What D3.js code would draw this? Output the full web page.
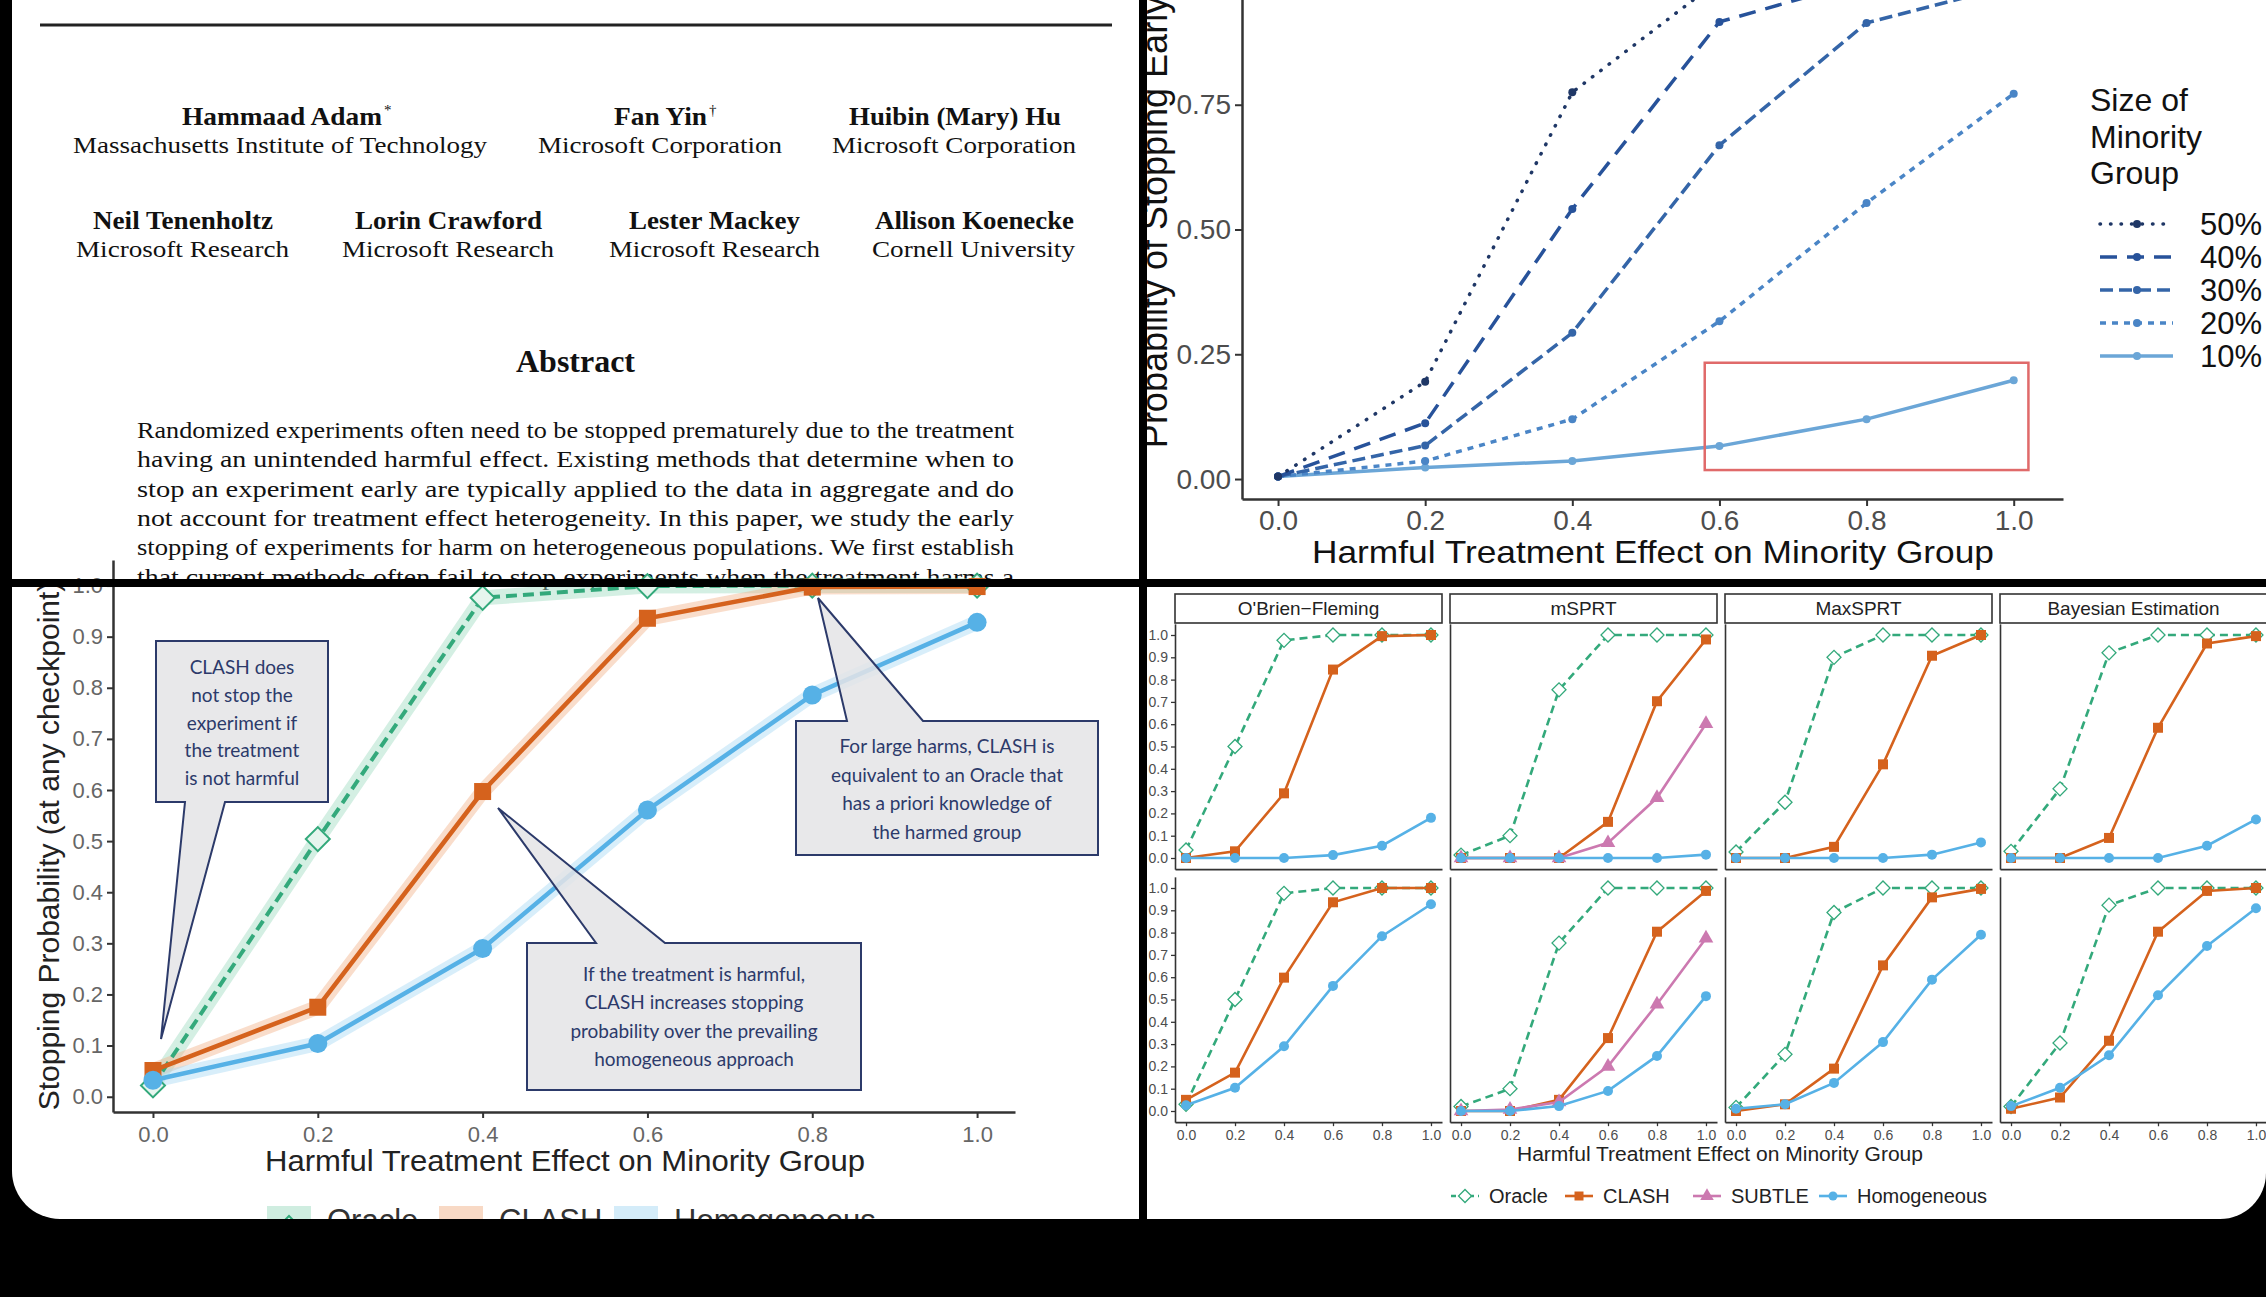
<!DOCTYPE html>
<html>
<head>
<meta charset="utf-8">
<script src="https://cdn.jsdelivr.net/npm/d3@7/dist/d3.min.js"></script>
<style>
body { margin: 0; background: #000; }
svg { display: block; }
</style>
</head>
<body>
<script>
// ---------- data ----------
const effects = [0, 0.2, 0.4, 0.6, 0.8, 1.0];
const xTicks = [0, 0.2, 0.4, 0.6, 0.8, 1.0];

// paper header
const authorNames = ["Hammaad Adam", "Fan Yin", "Huibin (Mary) Hu",
  "Neil Tenenholtz", "Lorin Crawford", "Lester Mackey", "Allison Koenecke"];
const authorMarks = ["*", "†", "", "", "", "", ""];
const affiliations = ["Massachusetts Institute of Technology", "Microsoft Corporation", "Microsoft Corporation",
  "Microsoft Research", "Microsoft Research", "Microsoft Research", "Cornell University"];
const abstractLines = [
  "Randomized experiments often need to be stopped prematurely due to the treatment",
  "having an unintended harmful effect.  Existing methods that determine when to",
  "stop an experiment early are typically applied to the data in aggregate and do",
  "not account for treatment effect heterogeneity.  In this paper, we study the early",
  "stopping of experiments for harm on heterogeneous populations. We first establish",
  "that current methods often fail to stop experiments when the treatment harms a"
];

// top right: probability of stopping early by size of minority group
const groupLabels = ["50%", "40%", "30%", "20%", "10%"];
const group50 = [0.005, 0.195, 0.775, 1.0, 1.0, 1.0];
const group40 = [0.005, 0.112, 0.541, 0.916, 1.0, 1.0];
const group30 = [0.005, 0.067, 0.293, 0.669, 0.914, 0.99];
const group20 = [0.005, 0.036, 0.12, 0.316, 0.553, 0.772];
const group10 = [0.005, 0.023, 0.036, 0.066, 0.12, 0.198];
const trYTicks = [0, 0.25, 0.5, 0.75];

// bottom left: CLASH vs oracle vs homogeneous
const oracleMain = [0.022, 0.504, 0.976, 0.999, 1.0, 1.0];
const clashMain = [0.051, 0.175, 0.597, 0.936, 0.997, 0.998];
const homogMain = [0.032, 0.104, 0.29, 0.561, 0.786, 0.928];
const blYTicks = [0, 0.1, 0.2, 0.3, 0.4, 0.5, 0.6, 0.7, 0.8, 0.9, 1.0];
const calloutLeft = ["CLASH does", "not stop the", "experiment if", "the treatment", "is not harmful"];
const calloutRight = ["For large harms, CLASH is", "equivalent to an Oracle that", "has a priori knowledge of", "the harmed group"];
const calloutMid = ["If the treatment is harmful,", "CLASH increases stopping", "probability over the prevailing", "homogeneous approach"];
const mainLegend = ["Oracle", "CLASH", "Homogeneous"];

// bottom right: facets by stopping method
const methodNames = ["O'Brien\u2212Fleming", "mSPRT", "MaxSPRT", "Bayesian Estimation"];
const facetYTicks = [0, 0.1, 0.2, 0.3, 0.4, 0.5, 0.6, 0.7, 0.8, 0.9, 1.0];
const oracleTop = [
  [0.036, 0.50, 0.976, 1, 1, 1],
  [0.013, 0.10, 0.754, 1, 1, 1],
  [0.027, 0.25, 0.90, 1, 1, 1],
  [0.03, 0.31, 0.92, 1, 1, 1]];
const clashTop = [
  [0, 0.03, 0.29, 0.845, 0.995, 1],
  [0, 0, 0, 0.162, 0.703, 0.98],
  [0, 0, 0.05, 0.42, 0.907, 1],
  [0, 0, 0.09, 0.584, 0.962, 0.995]];
const subtleTop = [null, [0, 0, 0, 0.068, 0.27, 0.602], null, null];
const homogTop = [
  [0, 0, 0, 0.013, 0.055, 0.18],
  [0, 0, 0, 0, 0, 0.015],
  [0, 0, 0, 0, 0.015, 0.07],
  [0, 0, 0, 0, 0.055, 0.173]];
const oracleBottom = [
  [0.03, 0.50, 0.976, 1, 1, 1],
  [0.02, 0.10, 0.753, 1, 1, 1],
  [0.016, 0.254, 0.89, 1, 1, 1],
  [0.02, 0.305, 0.923, 1, 1, 1]];
const clashBottom = [
  [0.05, 0.172, 0.598, 0.936, 1, 1],
  [0, 0, 0.05, 0.327, 0.804, 0.987],
  [0, 0.03, 0.19, 0.653, 0.958, 0.996],
  [0.01, 0.06, 0.315, 0.804, 0.987, 1]];
const subtleBottom = [null, [0, 0.007, 0.04, 0.2, 0.479, 0.775], null, null];
const homogBottom = [
  [0.026, 0.104, 0.29, 0.561, 0.784, 0.927],
  [0, 0, 0.022, 0.09, 0.247, 0.515],
  [0.01, 0.03, 0.126, 0.309, 0.589, 0.79],
  [0.022, 0.104, 0.25, 0.519, 0.74, 0.909]];
const facetLegend = ["Oracle", "CLASH", "SUBTLE", "Homogeneous"];

// ---------- styles ----------
const sans = "'Liberation Sans', Arial, Helvetica, sans-serif";
const serif = "'Liberation Serif', 'Times New Roman', serif";
const callFont = "Lato, 'Open Sans', sans-serif";
const green = "#33a97b", orange = "#d5621d", blue = "#56b1e6", pink = "#cc79b0";
const navy = "#2c3a6a";

const width = 2266, height = 1297;
const svg = d3.select("body").append("svg").attr("width", width).attr("height", height);
svg.append("rect").attr("width", width).attr("height", height).attr("fill", "#000");
const screenPath = "M12,0H2266V1173A46,46 0 0 1 2220,1219H60A48,48 0 0 1 12,1171Z";
svg.append("defs").append("clipPath").attr("id", "screen").append("path").attr("d", screenPath);
svg.append("path").attr("d", screenPath).attr("fill", "#fff");
const root = svg.append("g").attr("clip-path", "url(#screen)");

function styleAxis(g, size, color, lw) {
  g.attr("font-family", null).attr("font-size", null);
  g.select(".domain").attr("stroke", "#333").attr("stroke-width", lw);
  g.selectAll(".tick line").attr("stroke", "#333").attr("stroke-width", lw * 0.8);
  g.selectAll(".tick text").attr("font-family", sans).attr("font-size", size).attr("fill", color);
}
function marker(g, shape, cx, cy, s, fill, stroke, sw) {
  let type = d3.symbolCircle, rot = 0, area = Math.PI * s * s / 4;
  if (shape === "square") { type = d3.symbolSquare; area = s * s; }
  if (shape === "diamond") { type = d3.symbolSquare; area = s * s / 2; rot = 45; }
  if (shape === "triangle") { type = d3.symbolTriangle; area = s * s * 0.55; }
  g.append("path").attr("d", d3.symbol().type(type).size(area)())
    .attr("transform", `translate(${cx},${cy}) rotate(${rot})`)
    .attr("fill", fill).attr("stroke", stroke || "none").attr("stroke-width", sw || 0);
}

// ---------- top left: paper header ----------
const paper = root.append("g");
paper.append("line").attr("x1", 40).attr("x2", 1112).attr("y1", 25).attr("y2", 25)
  .attr("stroke", "#222").attr("stroke-width", 3);
function fitText(str, x, y, w, size, weight) {
  return paper.append("text").attr("x", x).attr("y", y)
    .attr("textLength", w).attr("lengthAdjust", "spacingAndGlyphs")
    .attr("font-family", serif).attr("font-size", size).attr("font-weight", weight)
    .attr("fill", "#111").text(str);
}
const nameBoxes = [[182, 200], [614, 93], [849, 212], [93, 180], [355, 187], [629, 171], [875, 199]];
const affBoxes = [[73, 414], [538, 244], [832, 244], [76, 213], [342, 212], [609, 211], [872, 203]];
authorNames.forEach((n, i) => {
  const row = i < 3 ? 0 : 1;
  const ny = row ? 229 : 125, ay = row ? 257 : 153;
  fitText(n, nameBoxes[i][0], ny, nameBoxes[i][1], 26, "bold");
  if (authorMarks[i]) {
    paper.append("text").attr("x", nameBoxes[i][0] + nameBoxes[i][1] + 2).attr("y", ny - 10)
      .attr("font-family", serif).attr("font-size", 15).attr("fill", "#111").text(authorMarks[i]);
  }
  fitText(affiliations[i], affBoxes[i][0], ay, affBoxes[i][1], 24, "normal");
});
fitText("Abstract", 516, 372, 119, 31, "bold");
abstractLines.forEach((l, i) => fitText(l, 137, 438 + i * 29.3, 877, 23.5, "normal"));

// ---------- top right: size of minority group ----------
const tr = root.append("g");
const trX = d3.scaleLinear().domain([-0.049, 1.067]).range([1242, 2063]);
const trY = d3.scaleLinear().domain([-0.04, 1.04]).range([499, -40]);
const groupSeries = [group50, group40, group30, group20, group10];
const groupColors = ["#1f3766", "#27529a", "#3465a8", "#4a85c6", "#6ba6d7"];
const groupDash = ["0.5,10", "17,10", "13,6", "6,6", null];
const groupCap = ["round", "butt", "butt", "butt", "butt"];

const trAxY = tr.append("g").attr("transform", "translate(1242,0)")
  .call(d3.axisLeft(trY).tickValues(trYTicks).tickFormat(d3.format(".2f")).tickSize(7).tickPadding(4).tickSizeOuter(0));
styleAxis(trAxY, 28, "#4d4d4d", 2.5);
const trAxX = tr.append("g").attr("transform", "translate(0,499)")
  .call(d3.axisBottom(trX).tickValues(xTicks).tickFormat(d3.format(".1f")).tickSize(7).tickPadding(4).tickSizeOuter(0));
styleAxis(trAxX, 28, "#4d4d4d", 2.5);

const trLine = d3.line().x((d, i) => trX(effects[i])).y(d => trY(d));
groupSeries.slice().reverse().forEach((s, k) => {
  const i = groupSeries.length - 1 - k;
  tr.append("path").attr("d", trLine(s)).attr("fill", "none")
    .attr("stroke", groupColors[i]).attr("stroke-width", 3.5)
    .attr("stroke-dasharray", groupDash[i]).attr("stroke-linecap", groupCap[i]);
  s.forEach((v, j) => tr.append("circle").attr("cx", trX(effects[j])).attr("cy", trY(v))
    .attr("r", 4).attr("fill", groupColors[i]));
});
tr.append("rect").attr("x", trX(0.58)).attr("y", trY(0.233))
  .attr("width", trX(1.02) - trX(0.58)).attr("height", trY(0.018) - trY(0.233))
  .attr("fill", "none").attr("stroke", "#e06a6a").attr("stroke-width", 2.5);

tr.append("text").attr("x", 1653).attr("y", 563).attr("text-anchor", "middle")
  .attr("textLength", 682).attr("lengthAdjust", "spacingAndGlyphs")
  .attr("font-family", sans).attr("font-size", 32).attr("fill", "#111")
  .text("Harmful Treatment Effect on Minority Group");
tr.append("text").attr("transform", "translate(1167,222) rotate(-90)").attr("text-anchor", "middle")
  .attr("font-family", sans).attr("font-size", 36).attr("fill", "#111")
  .text("Probability of Stopping Early");

["Size of", "Minority", "Group"].forEach((t, i) => tr.append("text")
  .attr("x", 2090).attr("y", 111 + i * 36.5).attr("font-family", sans).attr("font-size", 32)
  .attr("fill", "#111").text(t));
groupLabels.forEach((lab, i) => {
  const ky = 224 + i * 33;
  tr.append("line").attr("x1", 2100).attr("x2", 2173).attr("y1", ky).attr("y2", ky)
    .attr("stroke", groupColors[i]).attr("stroke-width", 3.5)
    .attr("stroke-dasharray", groupDash[i]).attr("stroke-linecap", groupCap[i]);
  tr.append("circle").attr("cx", 2137).attr("cy", ky).attr("r", 4).attr("fill", groupColors[i]);
  tr.append("text").attr("x", 2200).attr("y", ky + 11).attr("font-family", sans)
    .attr("font-size", 31).attr("fill", "#111").text(lab);
});

// ---------- bottom left: CLASH overview ----------
const bl = root.append("g");
const blX = d3.scaleLinear().domain([-0.0485, 1.046]).range([113, 1015]);
const blY = d3.scaleLinear().domain([-0.03, 1.05]).range([1112, 560]);
const blAxY = bl.append("g").attr("transform", "translate(113,0)")
  .call(d3.axisLeft(blY).tickValues(blYTicks).tickFormat(d3.format(".1f")).tickSize(6).tickPadding(4).tickSizeOuter(0));
styleAxis(blAxY, 22, "#666", 2.5);
const blAxX = bl.append("g").attr("transform", "translate(0,1112)")
  .call(d3.axisBottom(blX).tickValues(xTicks).tickFormat(d3.format(".1f")).tickSize(6).tickPadding(8).tickSizeOuter(0));
styleAxis(blAxX, 22, "#666", 2.5);

const blLine = d3.line().x((d, i) => blX(effects[i])).y(d => blY(d));
const mainSeries = [
  { v: oracleMain, c: green, dash: "11,6", shape: "diamond", band: "#9fdcc2" },
  { v: clashMain, c: orange, dash: null, shape: "square", band: "#f2b48c" },
  { v: homogMain, c: blue, dash: null, shape: "circle", band: "#a9d9f4" }];
mainSeries.forEach(s => bl.append("path").attr("d", blLine(s.v)).attr("fill", "none")
  .attr("stroke", s.band).attr("stroke-width", 15).attr("stroke-opacity", 0.45).attr("stroke-linejoin", "round"));
mainSeries.forEach(s => {
  bl.append("path").attr("d", blLine(s.v)).attr("fill", "none").attr("stroke", s.c)
    .attr("stroke-width", s.dash ? 4 : 4.5).attr("stroke-dasharray", s.dash);
  s.v.forEach((v, j) => {
    if (s.shape === "diamond") marker(bl, "diamond", blX(effects[j]), blY(v), 24, "#e6f5ee", s.c, 2);
    else marker(bl, s.shape, blX(effects[j]), blY(v), s.shape === "square" ? 17 : 19, s.c);
  });
});

bl.append("text").attr("x", 565).attr("y", 1171).attr("text-anchor", "middle")
  .attr("textLength", 600).attr("lengthAdjust", "spacingAndGlyphs")
  .attr("font-family", sans).attr("font-size", 30).attr("fill", "#222")
  .text("Harmful Treatment Effect on Minority Group");
bl.append("text").attr("transform", "translate(59,846) rotate(-90)").attr("text-anchor", "middle")
  .attr("font-family", sans).attr("font-size", 30).attr("fill", "#222")
  .text("Stopping Probability (at any checkpoint)");

// callouts
function callout(d, lines, cx, y0, step) {
  bl.append("path").attr("d", d).attr("fill", "#e4e4e6").attr("fill-opacity", 0.85)
    .attr("stroke", navy).attr("stroke-width", 2).attr("stroke-linejoin", "miter");
  lines.forEach((t, i) => bl.append("text").attr("x", cx).attr("y", y0 + i * step)
    .attr("text-anchor", "middle").attr("font-family", callFont).attr("font-size", 19)
    .attr("fill", navy).text(t));
}
callout("M156,641H328V802H225L161,1039L185,802H156Z", calloutLeft, 242, 674, 27.8);
callout("M796,721H847L818,598L923,721H1098V855H796Z", calloutRight, 947, 753, 28.5);
callout("M527,943H596L498,808L665,943H861V1090H527Z", calloutMid, 694, 981, 28.3);

// legend (mostly hidden below the frame)
const mainLegendX = [289, 461, 636];
mainLegend.forEach((lab, i) => {
  const s = mainSeries[i], kx = mainLegendX[i];
  bl.append("rect").attr("x", kx - 22).attr("y", 1206).attr("width", 44).attr("height", 44)
    .attr("fill", s.band).attr("fill-opacity", 0.5);
  bl.append("line").attr("x1", kx - 22).attr("x2", kx + 22).attr("y1", 1228).attr("y2", 1228)
    .attr("stroke", s.c).attr("stroke-width", 4).attr("stroke-dasharray", s.dash);
  if (s.shape === "diamond") marker(bl, "diamond", kx, 1228, 24, "#e6f5ee", s.c, 2);
  else marker(bl, s.shape, kx, 1228, 18, s.c);
  bl.append("text").attr("x", kx + 38).attr("y", 1231).attr("font-family", sans)
    .attr("font-size", 31).attr("fill", "#333").text(lab);
});

// ---------- bottom right: facets ----------
const br = root.append("g");
const facetW = 267, facetStep = 275, facetLeft = 1175;
const rowZero = [858, 1111], unitH = 223;
const facetSeries = [
  { top: oracleTop, bottom: oracleBottom, c: green, dash: "8,5", shape: "diamond" },
  { top: clashTop, bottom: clashBottom, c: orange, dash: null, shape: "square" },
  { top: subtleTop, bottom: subtleBottom, c: pink, dash: null, shape: "triangle" },
  { top: homogTop, bottom: homogBottom, c: blue, dash: null, shape: "circle" }];

methodNames.forEach((m, c) => {
  const L = facetLeft + c * facetStep;
  br.append("rect").attr("x", L).attr("y", 594).attr("width", facetW).attr("height", 29)
    .attr("fill", "#fff").attr("stroke", "#333").attr("stroke-width", 1.6);
  br.append("text").attr("x", L + facetW / 2).attr("y", 615).attr("text-anchor", "middle")
    .attr("font-family", sans).attr("font-size", 19).attr("fill", "#222").text(m);
  [0, 1].forEach(r => {
    const fx = d3.scaleLinear().domain([-0.045, 1.045]).range([L, L + facetW]);
    const fy = d3.scaleLinear().domain([-0.05, 1.05])
      .range([rowZero[r] + 0.05 * unitH, rowZero[r] - 1.05 * unitH]);
    const ay = br.append("g").attr("transform", `translate(${L},0)`)
      .call(d3.axisLeft(fy).tickValues(c === 0 ? facetYTicks : []).tickFormat(d3.format(".1f"))
        .tickSize(4).tickPadding(3).tickSizeOuter(0));
    styleAxis(ay, 14, "#4d4d4d", 1.6);
    const ax = br.append("g").attr("transform", `translate(0,${fy.range()[0]})`)
      .call(d3.axisBottom(fx).tickValues(r === 1 ? xTicks : []).tickFormat(d3.format(".1f"))
        .tickSize(4).tickPadding(4).tickSizeOuter(0));
    styleAxis(ax, 14, "#4d4d4d", 1.6);
    const fl = d3.line().x((d, i) => fx(effects[i])).y(d => fy(d));
    facetSeries.forEach(s => {
      const vals = (r === 0 ? s.top : s.bottom)[c];
      if (!vals) return;
      br.append("path").attr("d", fl(vals)).attr("fill", "none").attr("stroke", s.c)
        .attr("stroke-width", 2.6).attr("stroke-dasharray", s.dash);
      vals.forEach((v, j) => {
        if (s.shape === "diamond") marker(br, "diamond", fx(effects[j]), fy(v), 14, "#fff", s.c, 1.3);
        else marker(br, s.shape, fx(effects[j]), fy(v), s.shape === "triangle" ? 13 : 10, s.c);
      });
    });
  });
});
br.append("text").attr("x", 1720).attr("y", 1161).attr("text-anchor", "middle")
  .attr("textLength", 406).attr("lengthAdjust", "spacingAndGlyphs")
  .attr("font-family", sans).attr("font-size", 20).attr("fill", "#222")
  .text("Harmful Treatment Effect on Minority Group");
const facetLegendX = [1465, 1579, 1707, 1833];
facetLegend.forEach((lab, i) => {
  const s = facetSeries[i], kx = facetLegendX[i];
  br.append("line").attr("x1", kx - 14).attr("x2", kx + 14).attr("y1", 1196).attr("y2", 1196)
    .attr("stroke", s.c).attr("stroke-width", 2.6).attr("stroke-dasharray", s.dash ? "5,4" : null);
  if (s.shape === "diamond") marker(br, "diamond", kx, 1196, 13, "#fff", s.c, 1.3);
  else marker(br, s.shape, kx, 1196, s.shape === "triangle" ? 12 : 9, s.c);
  br.append("text").attr("x", kx + 24).attr("y", 1203).attr("font-family", sans)
    .attr("font-size", 20).attr("fill", "#222").text(lab);
});

// ---------- frame dividers ----------
svg.append("rect").attr("x", 1139).attr("y", 0).attr("width", 8).attr("height", 1219).attr("fill", "#000");
svg.append("rect").attr("x", 12).attr("y", 579).attr("width", 2254).attr("height", 8).attr("fill", "#000");
</script>
</body>
</html>
